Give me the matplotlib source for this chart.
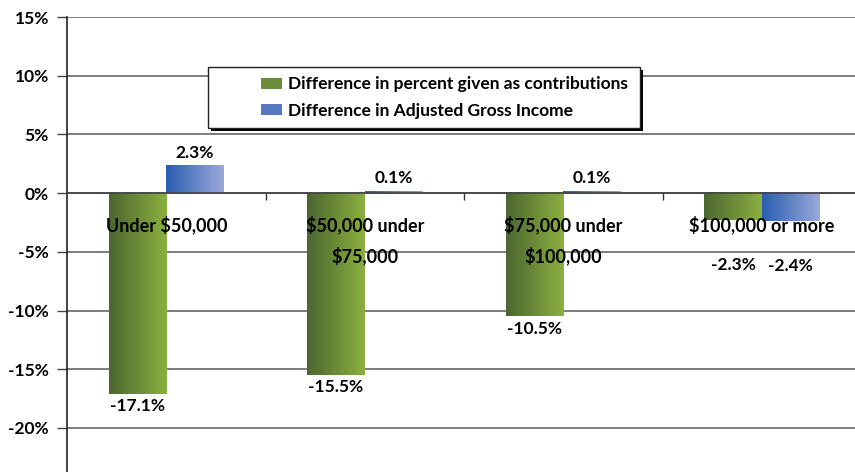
import matplotlib
matplotlib.use("Agg")
import matplotlib.pyplot as plt
import numpy as np
from matplotlib.colors import LinearSegmentedColormap
from matplotlib.patches import Patch, Rectangle

categorias = ["Under $50,000", "$50,000 under\n$75,000", "$75,000 under\n$100,000", "$100,000 or more"]
dif_contrib = [-17.1, -15.5, -10.5, -2.3]
dif_agi = [2.3, 0.1, 0.1, -2.4]
etiquetas_y = ["-20%", "-15%", "-10%", "-5%", "0%", "5%", "10%", "15%"]
valores_y = [-20, -15, -10, -5, 0, 5, 10, 15]

verde = LinearSegmentedColormap.from_list("verde", ["#4c6630", "#8bb040"])
azul = LinearSegmentedColormap.from_list("azul", ["#2a5db0", "#9ba9da"])

plt.rcParams['font.family'] = ['Lato', 'DejaVu Sans']

fig = plt.figure(figsize=(8.55, 4.72), dpi=100)
# el eje se sale un poco por la derecha, como en el original
ax = fig.add_axes([67 / 855, 0, 794 / 855, 455 / 472])

ancho = 0.29
x = np.arange(len(categorias)) + 0.5
grad = np.linspace(0, 1, 256).reshape(1, -1)

def barra_gradiente(xc, valor, cmap):
    y0, y1 = sorted([0, valor])
    ax.imshow(grad, cmap=cmap, aspect='auto', extent=(xc - ancho / 2, xc + ancho / 2, y0, y1),
              origin='lower', zorder=2, interpolation='bicubic')

for xi, v1, v2 in zip(x, dif_contrib, dif_agi):
    barra_gradiente(xi - ancho / 2, v1, verde)
    barra_gradiente(xi + ancho / 2, v2, azul)
ax.set_xlim(0, 4)
ax.set_ylim(-23.75, 15)

# etiquetas de datos (las pequeñas negativas se bajan para no pisar la categoría)
def etiqueta(xc, v):
    if v >= 0:
        ax.annotate(f"{v:.1f}%", (xc, v), xytext=(0, 4), textcoords='offset points',
                    ha='center', va='bottom', fontsize=12.5, fontweight='bold')
    elif v > -5:
        ax.text(xc, v - 3.8, f"{v:.1f}%", ha='center', va='center', fontsize=12.5, fontweight='bold')
    else:
        ax.annotate(f"{v:.1f}%", (xc, v), xytext=(0, -3), textcoords='offset points',
                    ha='center', va='top', fontsize=12.5, fontweight='bold')

for xi, v in zip(x, dif_contrib):
    etiqueta(xi - ancho / 2, v)
for xi, v in zip(x, dif_agi):
    etiqueta(xi + ancho / 2, v)

# etiquetas de categoría dentro del gráfico
for xi, c in zip(x, categorias):
    ax.text(xi, -1.9, c, ha='center', va='top', fontsize=13, fontweight='bold', linespacing=1.75, zorder=3)

ax.set_yticks(valores_y)
ax.set_yticklabels(etiquetas_y, fontsize=12.5, fontweight='bold')
ax.set_xticks([1, 2, 3])
ax.set_xticklabels([])
ax.spines['bottom'].set_position(('data', 0))
ax.spines['bottom'].set_color('#444444')
ax.spines['bottom'].set_linewidth(1.2)
ax.tick_params(axis='x', direction='out', length=5, width=1, color='#333333')
ax.tick_params(axis='y', length=7, width=1, color='#444444', pad=6)
ax.grid(axis='y', color='#666666', linewidth=1.2, zorder=0)
ax.set_axisbelow(True)
for s in ['top', 'right']:
    ax.spines[s].set_visible(False)
ax.spines['left'].set_color('#222222')
ax.spines['left'].set_linewidth(1.2)

# leyenda: marco con sombra dibujado a mano, como en el original
px, py = 1 / 855, 1 / 472
fig.patches.append(Rectangle((211 * px, 1 - 131 * py), 432 * px, 61 * py, transform=fig.transFigure,
                             facecolor='black', edgecolor='none', zorder=4))
fig.patches.append(Rectangle((208 * px, 1 - 128 * py), 432 * px, 61 * py, transform=fig.transFigure,
                             facecolor='white', edgecolor='#222222', linewidth=1.0, zorder=5))
handles = [Patch(facecolor='#6a8c38', label='Difference in percent given as contributions'),
           Patch(facecolor='#5578c0', label='Difference in Adjusted Gross Income')]
leg = fig.legend(handles=handles, loc='center left', bbox_to_anchor=(249 * px, 1 - 97.5 * py),
                 frameon=False, borderpad=0.2, handlelength=1.2, handleheight=0.6, handletextpad=0.35,
                 labelspacing=0.6, prop={'weight': 'bold', 'size': 12.5})
leg.set_zorder(6)

fig.savefig("out.png", dpi=100)
